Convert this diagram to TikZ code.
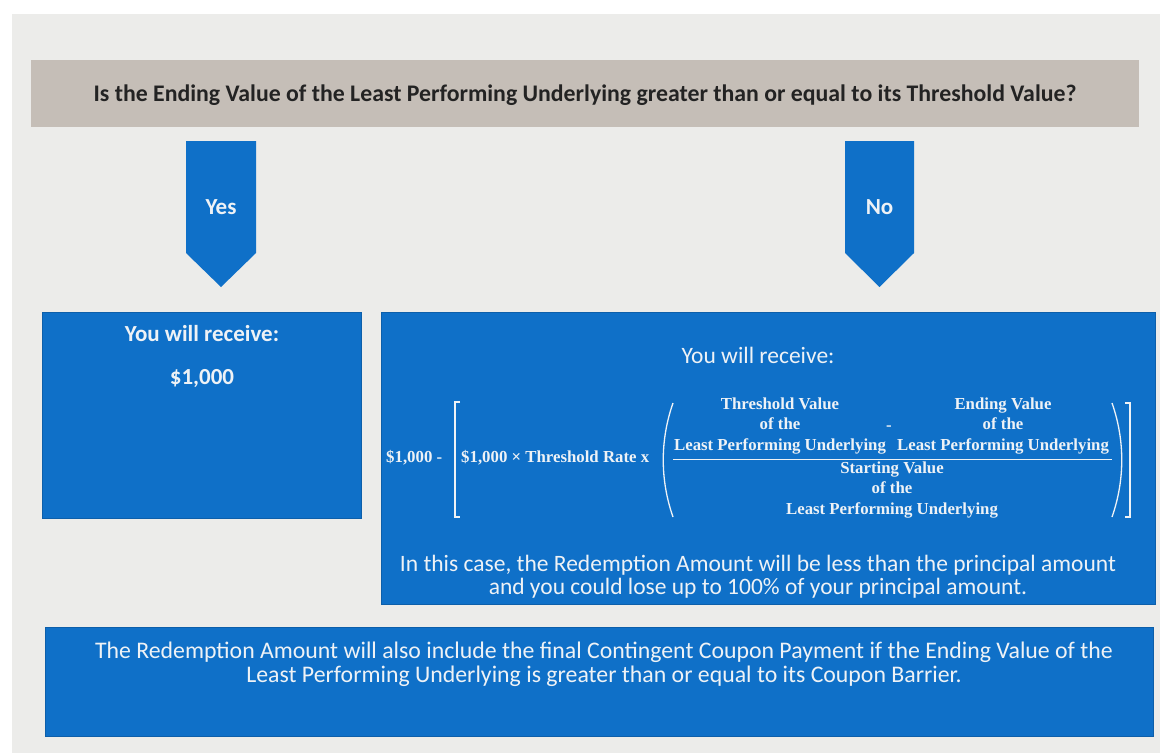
\documentclass[tikz,border=0pt]{standalone}
\usepackage{fontspec}
\setmainfont{Carlito}
\newfontfamily\formulafont{Liberation Serif}
\usetikzlibrary{positioning}
\definecolor{panel}{RGB}{236,236,234}
\definecolor{titlebar}{RGB}{197,190,183}
\definecolor{boxblue}{RGB}{15,112,200}
\definecolor{ink}{RGB}{35,35,35}
\definecolor{paper}{RGB}{238,242,246}
\tikzset{
    bluebox/.style={fill=boxblue, draw=boxblue!85!black, line width=0.6pt},
    bodytext/.style={text=paper, font=\fontsize{23.5}{23.5}\selectfont, align=center, inner sep=0pt},
    formula/.style={text=paper, font=\formulafont\bfseries\fontsize{16.8}{20.5}\selectfont, align=center, inner sep=0pt},
    delim/.style={draw=paper, line width=1.3pt},
    choice/.style={text=paper, font=\bfseries\fontsize{23}{24}\selectfont}
}

\begin{document}
\begin{tikzpicture}[x=1pt, y=-1pt]
    \useasboundingbox (0,0) rectangle (1160,753);
    % Background
    \fill[white] (0,0) rectangle (1160,753);
    \fill[panel] (12,14) rectangle (1160,753);

    % Question
    \fill[titlebar] (31,60) rectangle (1139,127);
    \node[font=\bfseries\fontsize{23.8}{24}\selectfont, text=ink] (question) at (585,95)
        {Is the Ending Value of the Least Performing Underlying greater than or equal to its Threshold Value?};

    % Yes / No chevrons
    \fill[boxblue] (186,141) -- (256,141) -- (256,253) -- (221,287) -- (186,253) -- cycle;
    \node[choice] (yes) at (221,207) {Yes};
    \fill[boxblue] (845,141) -- (914,141) -- (914,253) -- (879.5,287) -- (845,253) -- cycle;
    \node[choice] (no) at (879.5,207) {No};

    % Yes outcome
    \draw[bluebox] (42,312) rectangle (361,518);
    \node[bodytext, font=\bfseries\fontsize{23}{23.5}\selectfont] (yesrecv) at (202,334) {You will receive:};
    \node[bodytext, font=\bfseries\fontsize{23}{23.5}\selectfont] (yesamt) at (202,379) {\$1,000};

    % No outcome
    \draw[bluebox] (381,312) rectangle (1155,604);
    \node[bodytext] (norecv) at (758,355) {You will receive:};

    % Formula
    \node[formula, anchor=west] (base) at (386,458) {\$1,000 -};
    \node[formula, anchor=west] (rate) at (461,458) {\$1,000 × Threshold Rate x};
    \node[formula] (thrv) at (780,426) {Threshold Value\\of the\\Least Performing Underlying};
    \node[formula] (minus) at (889,428) {-};
    \node[formula] (endv) at (1003,426) {Ending Value\\of the\\Least Performing Underlying};
    \node[formula] (startv) at (892,490) {Starting Value\\of the\\Least Performing Underlying};
    \draw[paper, line width=1pt] (673,459) -- (1112,459);
    \draw[delim] (460,402) -- (455,402) -- (455,517) -- (460,517);
    \draw[delim] (673,403) .. controls (660,440) and (660,480) .. (673,517);
    \draw[delim] (1112,403) .. controls (1125,440) and (1125,480) .. (1112,517);
    \draw[delim] (1125,403) -- (1130,403) -- (1130,517) -- (1125,517);

    \node[bodytext] (loss) at (758,576.5)
        {In this case, the Redemption Amount will be less than the principal amount\\and you could lose up to 100\% of your principal amount.};

    % Coupon note
    \draw[bluebox] (45,627) rectangle (1153,736);
    \node[bodytext, font=\fontsize{23.8}{24}\selectfont] (coupon) at (604,664)
        {The Redemption Amount will also include the final Contingent Coupon Payment if the Ending Value of the\\Least Performing Underlying is greater than or equal to its Coupon Barrier.};
\end{tikzpicture}
\end{document}
